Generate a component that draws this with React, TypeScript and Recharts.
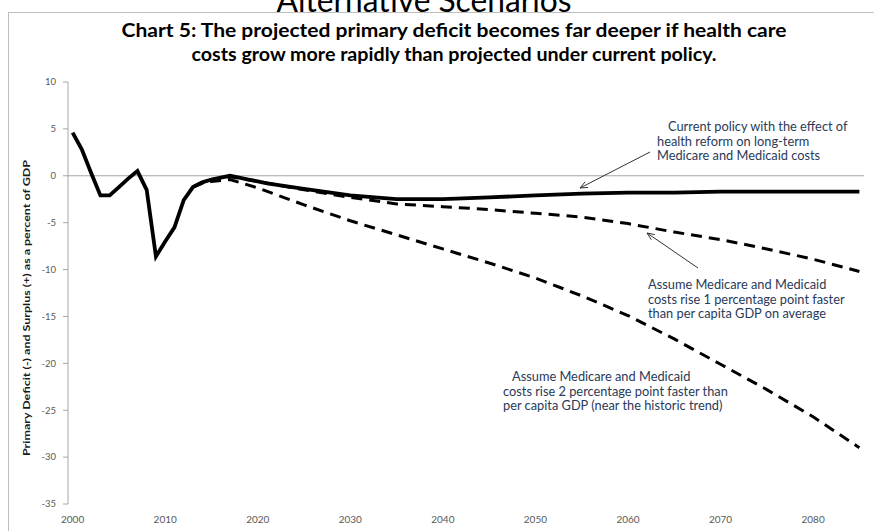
import React from 'react';
import { LineChart, Line, XAxis, YAxis, ReferenceLine } from 'recharts';

// ---- data (percent of GDP) ----
const currentYears = [2000, 2001, 2002, 2003, 2004, 2005, 2006, 2007, 2008, 2009, 2010, 2011, 2012, 2013, 2014, 2015, 2016, 2017, 2018, 2019, 2020, 2021, 2025, 2030, 2035, 2040, 2045, 2050, 2055, 2060, 2065, 2070, 2075, 2080, 2085];
const currentValues = [4.6, 2.8, 0.3, -2.1, -2.1, -1.2, -0.3, 0.5, -1.5, -8.6, -7.0, -5.5, -2.6, -1.2, -0.7, -0.4, -0.2, 0.0, -0.2, -0.4, -0.6, -0.8, -1.4, -2.1, -2.5, -2.5, -2.3, -2.1, -1.9, -1.8, -1.8, -1.7, -1.7, -1.7, -1.7];

const plus1Years = [2013, 2014, 2015, 2016, 2017, 2020, 2025, 2030, 2035, 2040, 2045, 2050, 2055, 2060, 2065, 2070, 2075, 2080, 2085];
const plus1Values = [-1.2, -0.7, -0.4, -0.3, -0.1, -0.6, -1.5, -2.3, -3.0, -3.3, -3.6, -4.0, -4.4, -5.1, -6.0, -6.8, -7.8, -8.9, -10.2];

const plus2Years = [2013, 2014, 2015, 2016, 2017, 2018, 2020, 2025, 2030, 2035, 2040, 2045, 2050, 2055, 2060, 2065, 2070, 2075, 2080, 2085];
const plus2Values = [-1.2, -0.8, -0.6, -0.5, -0.4, -0.7, -1.3, -3.1, -4.8, -6.3, -7.8, -9.3, -10.9, -12.8, -14.9, -17.4, -20.1, -22.8, -25.7, -29.0];

const xTicks = [2000, 2010, 2020, 2030, 2040, 2050, 2060, 2070, 2080];
const yTicks = [-35, -30, -25, -20, -15, -10, -5, 0, 5, 10];

const pageTitle = 'Alternative Scenarios';
const titleLines = [
  'Chart 5:  The projected primary deficit becomes far deeper if health care',
  'costs grow more rapidly than projected under current policy.',
];
const yLabel = 'Primary Deficit (-) and Surplus (+) as a percent of GDP';
const noteCurrent = ['Current policy with the effect of', 'health reform on long-term', 'Medicare and Medicaid costs'];
const notePlus1 = ['Assume Medicare and Medicaid', 'costs rise 1 percentage point faster', 'than per capita GDP on average'];
const notePlus2 = ['Assume Medicare and Medicaid', 'costs rise 2 percentage point faster than', 'per capita GDP (near the historic trend)'];

const toSeries = (years: number[], values: number[]) => years.map((year, i) => ({ year, v: values[i] }));
const currentData = toSeries(currentYears, currentValues);
const plus1Data = toSeries(plus1Years, plus1Values);
const plus2Data = toSeries(plus2Years, plus2Values);

const W = 874;
const H = 531;
const FONT = 'Lato, "Open Sans", sans-serif';
const NOTE_COLOR = '#2a3a58';

const Arrow = ({ x1, y1, x2, y2 }: { x1: number; y1: number; x2: number; y2: number }) => {
  const ang = Math.atan2(y2 - y1, x2 - x1);
  const len = 8;
  const spread = 0.4;
  const ax = x2 - len * Math.cos(ang - spread);
  const ay = y2 - len * Math.sin(ang - spread);
  const bx = x2 - len * Math.cos(ang + spread);
  const by = y2 - len * Math.sin(ang + spread);
  return (
    <g stroke="#333" strokeWidth={1} fill="none">
      <line x1={x1} y1={y1} x2={x2} y2={y2} />
      <polyline points={`${ax},${ay} ${x2},${y2} ${bx},${by}`} />
    </g>
  );
};

const Note = ({ lines, x, y, indent = 0 }: { lines: string[]; x: number; y: number; indent?: number }) => (
  <g>
    {lines.map((t, i) => (
      <text key={i} x={x + (i === 0 ? indent : 0)} y={y + i * 14.5} fontFamily={FONT} fontSize={12.8} fill={NOTE_COLOR}>
        {t}
      </text>
    ))}
  </g>
);

export default function App() {
  return (
    <div style={{ position: 'absolute', left: 0, top: 0, width: W, height: H, background: '#fff', overflow: 'hidden' }}>
      <LineChart width={W} height={H} margin={{ top: 82, right: 10, bottom: 0, left: 0 }}>
        <XAxis
          dataKey="year"
          type="number"
          domain={[1999.5, 2085.5]}
          ticks={xTicks}
          axisLine={false}
          tickLine={false}
          tickSize={0}
          tickMargin={12}
          height={27}
          tick={{ fontSize: 10, fill: '#595959', fontFamily: FONT }}
          allowDuplicatedCategory={false}
        />
        <YAxis
          type="number"
          domain={[-35, 10]}
          ticks={yTicks}
          width={68}
          axisLine={{ stroke: '#a6a6a6' }}
          tickLine={{ stroke: '#a6a6a6' }}
          tickSize={5}
          tickMargin={7}
          tick={{ fontSize: 9.5, fill: '#595959', fontFamily: FONT }}
          interval={0}
        />
        <ReferenceLine y={0} stroke="#a6a6a6" strokeWidth={1} ifOverflow="extendDomain" />
        <Line data={plus2Data} dataKey="v" type="linear" stroke="#000" strokeWidth={3} strokeDasharray="11 7" dot={false} isAnimationActive={false} />
        <Line data={plus1Data} dataKey="v" type="linear" stroke="#000" strokeWidth={3} strokeDasharray="11 7" dot={false} isAnimationActive={false} />
        <Line data={currentData} dataKey="v" type="linear" stroke="#000" strokeWidth={3.8} dot={false} isAnimationActive={false} />
      </LineChart>
      <svg width={W} height={H} style={{ position: 'absolute', left: 0, top: 0, pointerEvents: 'none' }}>
        <rect x={8.5} y={12.5} width={W + 10} height={H + 10} fill="none" stroke="#bfbfbf" strokeWidth={1} />
        <text x={424} y={12} textAnchor="middle" fontFamily={FONT} fontSize={33} fill="#000" textLength={295} lengthAdjust="spacingAndGlyphs">
          {pageTitle}
        </text>
        <text x={454} y={37} textAnchor="middle" fontFamily={FONT} fontWeight="bold" fontSize={19} fill="#000" textLength={665} lengthAdjust="spacingAndGlyphs">
          {titleLines[0]}
        </text>
        <text x={454} y={61} textAnchor="middle" fontFamily={FONT} fontWeight="bold" fontSize={19} fill="#000" textLength={525} lengthAdjust="spacingAndGlyphs">
          {titleLines[1]}
        </text>
        <text
          x={29.5}
          y={308}
          textAnchor="middle"
          transform="rotate(-90, 29.5, 308)"
          fontFamily={FONT}
          fontWeight="bold"
          fontSize={9.5}
          fill="#1a1a1a"
          textLength={296}
          lengthAdjust="spacingAndGlyphs"
        >
          {yLabel}
        </text>
        <Note lines={noteCurrent} x={657} y={131} indent={11} />
        <Arrow x1={650} y1={152} x2={580} y2={188} />
        <Note lines={notePlus1} x={648} y={289} />
        <Arrow x1={698} y1={268} x2={647} y2={233} />
        <Note lines={notePlus2} x={503} y={381} indent={9} />
      </svg>
    </div>
  );
}
